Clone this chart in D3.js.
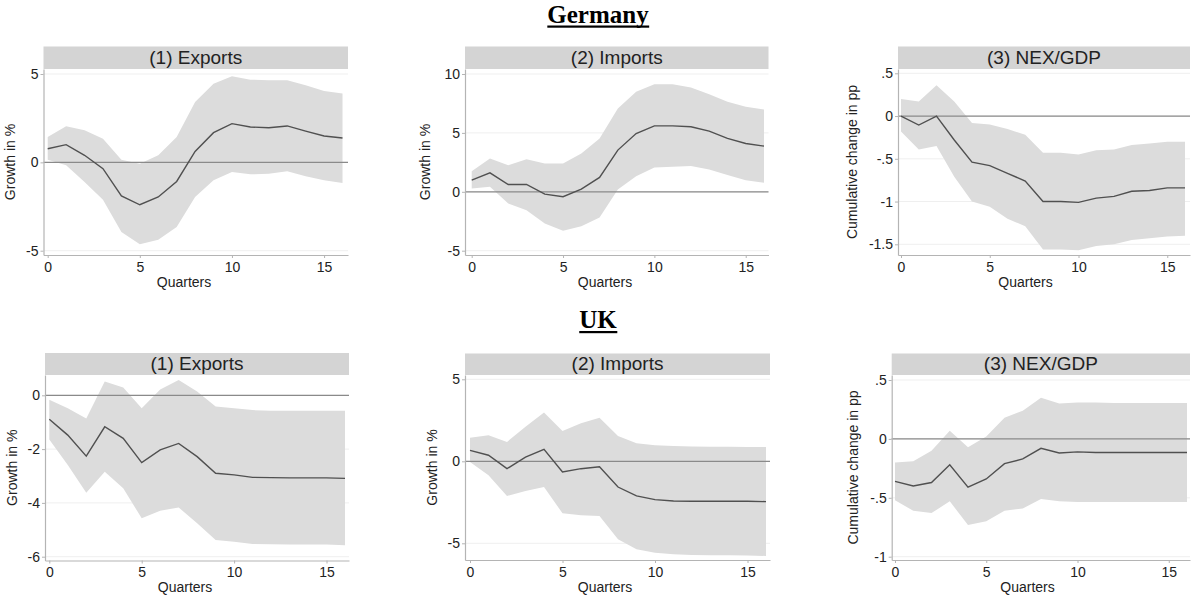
<!DOCTYPE html>
<html>
<head>
<meta charset="utf-8">
<script src="https://cdn.jsdelivr.net/npm/d3@7"></script>
<style>
  body { margin: 0; background: #fff; }
  svg { display: block; }
  text { font-family: "Liberation Sans", Arial, sans-serif; fill: #222; }
</style>
</head>
<body>
<svg id="chart" width="1192" height="599"></svg>
<script>
// Horizon in quarters after the shock
const quarters = [0, 1, 2, 3, 4, 5, 6, 7, 8, 9, 10, 11, 12, 13, 14, 15, 16];
const xTicks = [0, 5, 10, 15];

// Germany: exports
const deExportsIrf = [0.77, 1.0, 0.4, -0.36, -1.9, -2.4, -1.96, -1.08, 0.62, 1.68, 2.19, 2.0, 1.96, 2.06, 1.77, 1.49, 1.38];
const deExportsHi  = [1.43, 2.04, 1.81, 1.34, 0.15, -0.08, 0.4, 1.43, 3.42, 4.45, 4.87, 4.68, 4.64, 4.64, 4.36, 4.04, 3.89];
const deExportsLo  = [0.15, -0.17, -1.11, -2.11, -3.94, -4.64, -4.38, -3.66, -1.96, -1.02, -0.55, -0.68, -0.64, -0.51, -0.79, -1.02, -1.17];
const deExportsTicks = [-5, 0, 5];

// Germany: imports
const deImportsIrf = [0.99, 1.61, 0.62, 0.62, -0.2, -0.42, 0.23, 1.22, 3.54, 4.95, 5.6, 5.6, 5.52, 5.15, 4.53, 4.1, 3.88];
const deImportsHi  = [1.75, 2.83, 2.26, 2.77, 2.41, 2.41, 3.26, 4.53, 7.08, 8.49, 9.14, 9.14, 8.86, 8.29, 7.64, 7.22, 6.99];
const deImportsLo  = [0.28, 0.42, -0.99, -1.56, -2.69, -3.31, -2.92, -2.18, 0.2, 1.33, 2.07, 2.12, 2.18, 1.9, 1.42, 0.99, 0.76];
const deImportsTicks = [-5, 0, 5, 10];

// Germany: net exports over GDP
const deNexIrf = [0.0, -0.105, 0.0, -0.28, -0.54, -0.58, -0.67, -0.76, -1.0, -1.0, -1.01, -0.96, -0.94, -0.88, -0.87, -0.84, -0.84];
const deNexHi  = [0.2, 0.17, 0.36, 0.17, -0.08, -0.1, -0.15, -0.22, -0.43, -0.43, -0.45, -0.4, -0.39, -0.34, -0.32, -0.3, -0.3];
const deNexLo  = [-0.18, -0.39, -0.35, -0.71, -1.0, -1.06, -1.2, -1.29, -1.56, -1.56, -1.57, -1.52, -1.5, -1.45, -1.43, -1.41, -1.4];
const deNexTicks = [-1.5, -1, -0.5, 0, 0.5];

// UK: exports
const ukExportsIrf = [-0.89, -1.48, -2.26, -1.17, -1.6, -2.5, -2.03, -1.79, -2.28, -2.9, -2.96, -3.05, -3.06, -3.07, -3.07, -3.07, -3.09];
const ukExportsHi  = [-0.17, -0.48, -0.86, 0.51, 0.29, -0.48, 0.22, 0.57, 0.14, -0.42, -0.48, -0.55, -0.57, -0.57, -0.57, -0.57, -0.57];
const ukExportsLo  = [-1.64, -2.59, -3.62, -2.84, -3.46, -4.57, -4.29, -4.17, -4.76, -5.38, -5.44, -5.53, -5.54, -5.55, -5.55, -5.55, -5.57];
const ukExportsTicks = [-6, -4, -2, 0];

// UK: imports
const ukImportsIrf = [0.67, 0.37, -0.45, 0.26, 0.73, -0.65, -0.45, -0.33, -1.57, -2.11, -2.34, -2.42, -2.44, -2.44, -2.44, -2.44, -2.46];
const ukImportsHi  = [1.44, 1.59, 1.18, 2.11, 2.97, 1.85, 2.32, 2.66, 1.54, 1.1, 0.98, 0.93, 0.91, 0.89, 0.89, 0.87, 0.87];
const ukImportsLo  = [-0.04, -0.85, -2.11, -1.81, -1.57, -3.17, -3.29, -3.33, -4.76, -5.37, -5.57, -5.67, -5.71, -5.73, -5.73, -5.75, -5.77];
const ukImportsTicks = [-5, 0, 5];

// UK: net exports over GDP
const ukNexIrf = [-0.36, -0.4, -0.37, -0.22, -0.41, -0.34, -0.21, -0.17, -0.08, -0.12, -0.11, -0.116, -0.116, -0.116, -0.116, -0.116, -0.116];
const ukNexHi  = [-0.2, -0.19, -0.1, 0.07, -0.07, 0.02, 0.18, 0.24, 0.35, 0.3, 0.31, 0.31, 0.305, 0.305, 0.305, 0.305, 0.305];
const ukNexLo  = [-0.52, -0.61, -0.63, -0.53, -0.73, -0.7, -0.61, -0.59, -0.51, -0.53, -0.535, -0.535, -0.535, -0.535, -0.535, -0.535, -0.535];
const ukNexTicks = [-1, -0.5, 0, 0.5];

const sectionTitles = ["Germany", "UK"];

const svg = d3.select("#chart");

// Stata-style tick labels: ".5" and "-1.5" instead of "0.5" and "-1.5"
const fmtTick = d => String(d).replace(/^(-?)0\./, "$1.");

// Panel frames: plot box, header strip, and two calibration points per axis.
// titleX centres "Quarters" on the whole graph region, as Stata does.
const panels = [
  { title: "(1) Exports", yLabel: "Growth in %", irf: deExportsIrf, lo: deExportsLo, hi: deExportsHi, ticks: deExportsTicks,
    frame: { left: 43.5, right: 348, hTop: 46.5, hBot: 69, bottom: 255, x0: 47.7, x16: 342.5, yA: [5, 74], yB: [-5, 250.7], labelDx: 33, titleX: 184 } },
  { title: "(2) Imports", yLabel: "Growth in %", irf: deImportsIrf, lo: deImportsLo, hi: deImportsHi, ticks: deImportsTicks,
    frame: { left: 465, right: 768.5, hTop: 46.5, hBot: 69, bottom: 255, x0: 471.7, x16: 764, yA: [10, 74], yB: [-5, 250.7], labelDx: 40, titleX: 605 } },
  { title: "(3) NEX/GDP", yLabel: "Cumulative change in pp", irf: deNexIrf, lo: deNexLo, hi: deNexHi, ticks: deNexTicks,
    frame: { left: 898, right: 1190, hTop: 46.5, hBot: 69, bottom: 255, x0: 901, x16: 1185, yA: [0.5, 73.3], yB: [-1.5, 244.3], labelDx: 46, titleX: 1025.5 } },
  { title: "(1) Exports", yLabel: "Growth in %", irf: ukExportsIrf, lo: ukExportsLo, hi: ukExportsHi, ticks: ukExportsTicks,
    frame: { left: 45, right: 349, hTop: 353, hBot: 375, bottom: 560.5, x0: 49.3, x16: 345, yA: [0, 395.3], yB: [-6, 556.7], labelDx: 33, titleX: 185 } },
  { title: "(2) Imports", yLabel: "Growth in %", irf: ukImportsIrf, lo: ukImportsLo, hi: ukImportsHi, ticks: ukImportsTicks,
    frame: { left: 465, right: 770, hTop: 353.5, hBot: 375, bottom: 560, x0: 470, x16: 766, yA: [5, 379.3], yB: [-5, 543.3], labelDx: 33, titleX: 605 } },
  { title: "(3) NEX/GDP", yLabel: "Cumulative change in pp", irf: ukNexIrf, lo: ukNexLo, hi: ukNexHi, ticks: ukNexTicks,
    frame: { left: 891.7, right: 1190, hTop: 353.5, hBot: 375, bottom: 560, x0: 895, x16: 1187, yA: [0.5, 380], yB: [-1, 556.7], labelDx: 39, titleX: 1027.5 } }
];

// Linear scale whose range spans the full plot box, calibrated by two known points
function calibrated(v1, p1, v2, p2, pLo, pHi) {
  const k = (p2 - p1) / (v2 - v1);
  return d3.scaleLinear()
    .domain([v1 + (pLo - p1) / k, v1 + (pHi - p1) / k])
    .range([pLo, pHi]);
}

panels.forEach(p => {
  const f = p.frame;
  const x = calibrated(0, f.x0, 16, f.x16, f.left, f.right);
  const y = calibrated(f.yA[0], f.yA[1], f.yB[0], f.yB[1], f.bottom, f.hBot);
  const g = svg.append("g");

  // faint gridlines at the major y ticks
  g.selectAll("line.grid").data(p.ticks).join("line")
    .attr("x1", f.left).attr("x2", f.right)
    .attr("y1", d => y(d)).attr("y2", d => y(d))
    .attr("stroke", "#efefef").attr("stroke-width", 1);

  const rows = quarters.map((q, i) => ({ q, irf: p.irf[i], lo: p.lo[i], hi: p.hi[i] }));

  // confidence band
  g.append("path").datum(rows)
    .attr("d", d3.area().x(d => x(d.q)).y0(d => y(d.lo)).y1(d => y(d.hi)))
    .attr("fill", "#dcdcdc");

  // zero reference line
  g.append("line")
    .attr("x1", f.left).attr("x2", f.right)
    .attr("y1", y(0)).attr("y2", y(0))
    .attr("stroke", "#8a8a8a").attr("stroke-width", 1.2);

  // point estimate
  g.append("path").datum(rows)
    .attr("d", d3.line().x(d => x(d.q)).y(d => y(d.irf)))
    .attr("fill", "none").attr("stroke", "#505050").attr("stroke-width", 1.4);

  // axes
  const yAxis = g.append("g").attr("transform", `translate(${f.left},0)`)
    .call(d3.axisLeft(y).tickValues(p.ticks).tickFormat(fmtTick).tickSize(3).tickSizeOuter(0).tickPadding(2));
  const xAxis = g.append("g").attr("transform", `translate(0,${f.bottom})`)
    .call(d3.axisBottom(x).tickValues(xTicks).tickSize(3).tickSizeOuter(0).tickPadding(4));
  [yAxis, xAxis].forEach(a => {
    a.select(".domain").attr("stroke", "#b4b4b4").attr("stroke-width", 1.2);
    a.selectAll(".tick line").attr("stroke", "#b4b4b4");
    a.selectAll(".tick text").attr("fill", "#222")
      .style("font-family", '"Liberation Sans", Arial, sans-serif').style("font-size", "14px");
  });

  // header strip with panel title
  g.append("rect")
    .attr("x", f.left).attr("y", f.hTop)
    .attr("width", f.right - f.left).attr("height", f.hBot - f.hTop)
    .attr("fill", "#d4d4d4");
  g.append("text")
    .attr("x", (f.left + f.right) / 2).attr("y", f.hBot - 5)
    .attr("text-anchor", "middle").style("font-size", "19px")
    .text(p.title);

  // axis titles
  g.append("text")
    .attr("x", f.titleX).attr("y", f.bottom + 31.5)
    .attr("text-anchor", "middle").style("font-size", "14px")
    .text("Quarters");
  const cy = (f.hBot + f.bottom) / 2;
  g.append("text")
    .attr("transform", `translate(${f.left - f.labelDx},${cy}) rotate(-90)`)
    .attr("text-anchor", "middle").attr("dy", "0.35em").style("font-size", "14px")
    .text(p.yLabel);
});

// section headings, bold and underlined
const headingY = [22.5, 328];
sectionTitles.forEach((t, i) => {
  const txt = svg.append("text")
    .attr("x", 598).attr("y", headingY[i])
    .attr("text-anchor", "middle")
    .style("font-family", '"Liberation Serif", "Times New Roman", serif')
    .style("font-weight", "bold").style("font-size", "25px").style("fill", "#000")
    .text(t);
  const bb = txt.node().getBBox();
  svg.append("rect")
    .attr("x", bb.x).attr("y", headingY[i] + 3)
    .attr("width", bb.width).attr("height", 2.2)
    .attr("fill", "#000");
});
</script>
</body>
</html>
